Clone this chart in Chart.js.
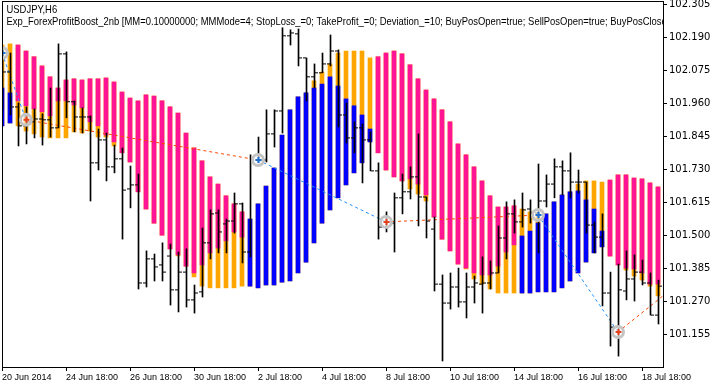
<!DOCTYPE html>
<html>
<head>
<meta charset="utf-8">
<script src="https://cdn.jsdelivr.net/npm/chart.js@4.4.1/dist/chart.umd.min.js"></script>
<style>
  html, body { margin: 0; padding: 0; background: #fff; }
</style>
</head>
<body>
<canvas id="chart" width="715" height="387"></canvas>
<script>
// texts
const symbolTitle = "USDJPY,H6";
const expertTitle = "Exp_ForexProfitBoost_2nb [MM=0.10000000; MMMode=4; StopLoss_=0; TakeProfit_=0; Deviation_=10; BuyPosOpen=true; SellPosOpen=true; BuyPosClose=true; SellPosClose=true]";

// axes
const xTickBars = [0, 8, 16, 24, 32, 40, 48, 56, 64, 72, 80];
const xTickLabels = ["20 Jun 2014", "24 Jun 18:00", "26 Jun 18:00", "30 Jun 18:00", "2 Jul 18:00", "4 Jul 18:00",
  "8 Jul 18:00", "10 Jul 18:00", "14 Jul 18:00", "16 Jul 18:00", "18 Jul 18:00"];
const yTicks = [102.305, 102.190, 102.075, 101.960, 101.845, 101.730, 101.615, 101.500, 101.385, 101.270, 101.155];

// H6 bars (one per index)
const barOpen = [101.972, 102.070, 101.948, 101.882, 101.896, 101.906, 101.903, 101.875, 102.133, 101.966,
  101.913, 101.913, 101.753, 101.833, 101.739, 101.767, 101.662, 101.676, 101.334, 101.418,
  101.397, 101.428, 101.310, 101.372, 101.275, 101.303, 101.474, 101.578, 101.540, 101.550,
  101.610, 101.442, 101.763, 101.763, 101.854, 101.934, 102.196, 102.203, 102.119, 102.053,
  102.067, 102.098, 102.143, 101.920, 101.840, 101.875, 101.833, 101.725, 101.529, 101.543,
  101.631, 101.652, 101.704, 101.634, 101.522, 101.330, 101.264, 101.320, 101.268, 101.320,
  101.330, 101.334, 101.369, 101.491, 101.575, 101.547, 101.592, 101.578, 101.620, 101.679,
  101.739, 101.725, 101.686, 101.686, 101.536, 101.494, 101.299, 101.180, 101.306, 101.348,
  101.372, 101.334, 101.222];
const barHigh = [102.147, 102.136, 101.962, 101.948, 101.941, 101.924, 102.014, 102.168, 102.140, 101.969,
  101.945, 101.917, 101.871, 101.857, 101.815, 101.805, 101.742, 101.714, 101.446, 101.435,
  101.474, 101.470, 101.442, 101.453, 101.327, 101.526, 101.589, 101.589, 101.557, 101.648,
  101.613, 101.781, 101.843, 101.938, 101.938, 102.224, 102.217, 102.220, 102.119, 102.098,
  102.136, 102.199, 102.147, 101.962, 101.896, 101.889, 101.861, 101.753, 101.582, 101.648,
  101.714, 101.739, 101.854, 101.634, 101.564, 101.362, 101.369, 101.386, 101.369, 101.358,
  101.425, 101.411, 101.533, 101.617, 101.624, 101.648, 101.624, 101.749, 101.711, 101.767,
  101.760, 101.788, 101.728, 101.686, 101.547, 101.575, 101.372, 101.400, 101.446, 101.432,
  101.414, 101.369, 101.344];
const barLow = [101.938, 101.920, 101.812, 101.819, 101.840, 101.815, 101.843, 101.875, 101.910, 101.861,
  101.857, 101.620, 101.728, 101.690, 101.718, 101.487, 101.596, 101.313, 101.320, 101.341,
  101.341, 101.257, 101.233, 101.250, 101.229, 101.285, 101.418, 101.439, 101.439, 101.508,
  101.404, 101.425, 101.753, 101.756, 101.808, 101.857, 102.164, 102.091, 101.969, 102.014,
  102.067, 102.091, 101.878, 101.822, 101.788, 101.683, 101.725, 101.487, 101.512, 101.442,
  101.575, 101.627, 101.533, 101.491, 101.306, 101.062, 101.243, 101.250, 101.212, 101.264,
  101.229, 101.313, 101.369, 101.418, 101.508, 101.529, 101.543, 101.439, 101.599, 101.631,
  101.641, 101.631, 101.648, 101.508, 101.439, 101.254, 101.114, 101.079, 101.275, 101.271,
  101.327, 101.222, 101.191];
const barClose = [102.070, 101.948, 101.882, 101.896, 101.906, 101.903, 101.875, 102.133, 101.966, 101.913,
  101.913, 101.753, 101.833, 101.739, 101.767, 101.658, 101.676, 101.334, 101.418, 101.390,
  101.372, 101.310, 101.372, 101.275, 101.299, 101.474, 101.575, 101.512, 101.550, 101.610,
  101.442, 101.763, 101.763, 101.854, 101.934, 102.196, 102.206, 102.119, 102.053, 102.067,
  102.098, 102.143, 101.920, 101.840, 101.875, 101.833, 101.725, 101.529, 101.547, 101.631,
  101.652, 101.704, 101.634, 101.550, 101.330, 101.264, 101.320, 101.268, 101.320, 101.334,
  101.334, 101.369, 101.491, 101.575, 101.547, 101.589, 101.578, 101.620, 101.679, 101.739,
  101.725, 101.686, 101.686, 101.536, 101.494, 101.299, 101.180, 101.310, 101.348, 101.372,
  101.334, 101.222, 101.323];

// indicator cloud: top, split level, bottom, trend (1 up = blue, -1 down = pink)
const cloudTop = [102.164, 102.168, 102.164, 102.143, 102.123, 102.091, 102.053, 102.014, 102.042, 102.046,
  102.042, 102.046, 102.046, 102.049, 102.035, 102.000, 101.979, 101.969, 101.990, 101.986,
  101.969, 101.948, 101.927, 101.857, 101.805, 101.760, 101.704, 101.679, 101.638, 101.610,
  101.582, 101.557, 101.610, 101.672, 101.735, 101.850, 101.938, 101.983, 101.997, 102.039,
  102.070, 102.098, 102.136, 102.143, 102.143, 102.143, 102.119, 102.123, 102.136, 102.143,
  102.133, 102.095, 102.046, 102.007, 101.976, 101.938, 101.896, 101.819, 101.781, 101.739,
  101.690, 101.638, 101.599, 101.599, 101.603, 101.592, 101.582, 101.575, 101.575, 101.617,
  101.641, 101.652, 101.679, 101.690, 101.690, 101.686, 101.693, 101.711, 101.711, 101.700,
  101.697, 101.683, 101.669];
const cloudMid = [102.014, 101.997, 101.969, 101.952, 101.941, 101.931, 101.917, 101.969, 101.969, 101.955,
  101.945, 101.896, 101.882, 101.850, 101.826, 101.788, 101.756, 101.652, 101.592, 101.543,
  101.501, 101.453, 101.432, 101.393, 101.369, 101.397, 101.439, 101.456, 101.481, 101.512,
  101.494, 101.557, 101.610, 101.672, 101.735, 101.850, 101.938, 101.983, 101.997, 102.014,
  102.028, 102.053, 102.021, 101.976, 101.952, 101.920, 101.871, 101.788, 101.728, 101.704,
  101.690, 101.697, 101.679, 101.641, 101.564, 101.487, 101.446, 101.400, 101.386, 101.369,
  101.362, 101.362, 101.393, 101.442, 101.467, 101.498, 101.515, 101.543, 101.575, 101.617,
  101.641, 101.652, 101.655, 101.624, 101.592, 101.515, 101.428, 101.397, 101.386, 101.383,
  101.369, 101.330, 101.330];
const cloudBottom = [101.882, 101.892, 101.882, 101.864, 101.854, 101.843, 101.840, 101.840, 101.840, 101.861,
  101.857, 101.864, 101.843, 101.843, 101.812, 101.788, 101.756, 101.652, 101.592, 101.543,
  101.501, 101.453, 101.428, 101.393, 101.355, 101.323, 101.317, 101.317, 101.317, 101.317,
  101.323, 101.323, 101.317, 101.327, 101.327, 101.337, 101.341, 101.369, 101.407, 101.474,
  101.543, 101.589, 101.631, 101.676, 101.718, 101.753, 101.826, 101.788, 101.728, 101.704,
  101.690, 101.662, 101.644, 101.620, 101.564, 101.487, 101.446, 101.400, 101.383, 101.348,
  101.330, 101.313, 101.299, 101.299, 101.299, 101.299, 101.299, 101.303, 101.303, 101.303,
  101.317, 101.341, 101.369, 101.407, 101.439, 101.460, 101.428, 101.397, 101.379, 101.358,
  101.344, 101.323, 101.289];
const cloudTrend = [1, 1, -1, -1, -1, -1, -1, -1, -1, -1,
  -1, -1, -1, -1, -1, -1, -1, -1, -1, -1,
  -1, -1, -1, -1, -1, -1, -1, -1, -1, -1,
  -1, 1, 1, 1, 1, 1, 1, 1, 1, 1,
  1, 1, 1, 1, 1, 1, 1, -1, -1, -1,
  -1, -1, -1, -1, -1, -1, -1, -1, -1, -1,
  -1, -1, -1, -1, -1, 1, 1, 1, 1, 1,
  1, 1, 1, 1, 1, 1, -1, -1, -1, -1,
  -1, -1, -1];

// trades
const tradeBars = [0, 3, 32, 48, 67, 77];
const tradePrices = [102.136, 101.903, 101.763, 101.547, 101.571, 101.163];
const tradeSides = ["buy", "sell", "buy", "sell", "buy", "sell"];
const tradePathBars = [0, 3, 32, 48, 67, 77, 84];
const tradePathPrices = [102.136, 101.903, 101.763, 101.547, 101.571, 101.163, 101.320];

const PINK = "#ff1493", ORANGE = "#ffa500", BLUE = "#0000ff";
const idx = barOpen.map((_, i) => i);

const squeezeText = (ctx, text, x, y, sx) => {
  ctx.save();
  ctx.translate(x, y);
  ctx.scale(sx, 1);
  ctx.fillText(text, 0, 0);
  ctx.restore();
};

const mtFrame = {
  id: "mtFrame",
  afterDatasetsDraw(chart) {
    const { ctx, chartArea: a } = chart;
    ctx.save();
    ctx.beginPath();
    ctx.rect(a.left, a.top, a.right - a.left, a.bottom - a.top);
    ctx.clip();
    ctx.fillStyle = "#000";
    ctx.font = '11px "Liberation Sans"';
    ctx.textBaseline = "alphabetic";
    const cut = expertTitle.slice(0, expertTitle.indexOf("BuyPosClos") + 10);
    const sx = 655 / ctx.measureText(cut).width;
    squeezeText(ctx, symbolTitle, 6.5, 13, sx);
    squeezeText(ctx, expertTitle, 6.5, 25, sx);
    ctx.restore();
    ctx.save();
    ctx.strokeStyle = "#000";
    ctx.lineWidth = 1;
    ctx.strokeRect(a.left + 0.5, a.top - 0.5, a.right - a.left, a.bottom - a.top + 1);
    ctx.restore();
  }
};

const hidden = (min, max) => ({ type: "linear", display: false, offset: false, min: min, max: max });

new Chart(document.getElementById("chart"), {
  type: "bar",
  plugins: [mtFrame],
  data: {
    datasets: [
      {
        label: "cloud",
        order: 10,
        grouped: false,
        barThickness: 4,
        backgroundColor: ORANGE,
        data: idx.map(i => ({ x: i, y: [cloudBottom[i], cloudTop[i]] }))
      },
      {
        label: "down",
        order: 9,
        grouped: false,
        barThickness: 4,
        backgroundColor: PINK,
        data: idx.filter(i => cloudTrend[i] < 0).map(i => ({ x: i, y: [cloudMid[i], cloudTop[i]] }))
      },
      {
        label: "up",
        order: 9,
        grouped: false,
        barThickness: 4,
        backgroundColor: BLUE,
        data: idx.filter(i => cloudTrend[i] > 0).map(i => ({ x: i, y: [cloudBottom[i], cloudMid[i]] }))
      },
      {
        type: "line",
        label: "trades",
        order: 8,
        borderWidth: 1,
        borderDash: [3, 3],
        pointRadius: 0,
        segment: {
          borderColor: c => tradeSides[c.p0DataIndex] === "buy" ? "#1e90ff" : "#ff4500"
        },
        data: tradePathBars.map((b, i) => ({ x: b, y: tradePathPrices[i] }))
      },
      {
        label: "range",
        order: 7,
        xAxisID: "x2",
        grouped: false,
        barThickness: 1,
        backgroundColor: "#000",
        data: idx.map(i => ({ x: i, y: [barLow[i], barHigh[i]] }))
      },
      {
        type: "scatter",
        label: "open",
        order: 6,
        xAxisID: "xo",
        pointStyle: "line",
        pointRadius: 1.5,
        borderWidth: 1,
        borderColor: "#000",
        data: idx.map(i => ({ x: i, y: barOpen[i] }))
      },
      {
        type: "scatter",
        label: "close",
        order: 6,
        xAxisID: "xc",
        pointStyle: "line",
        pointRadius: 1.5,
        borderWidth: 1,
        borderColor: "#000",
        data: idx.map(i => ({ x: i, y: barClose[i] }))
      },
      {
        type: "scatter",
        label: "deals",
        order: 5,
        pointStyle: "circle",
        pointRadius: 5.5,
        borderWidth: 3,
        borderColor: "#c4c4c4",
        backgroundColor: "rgba(255,255,255,0.6)",
        data: tradeBars.map((b, i) => ({ x: b, y: tradePrices[i] }))
      },
      {
        type: "scatter",
        label: "dealMarks",
        order: 4,
        xAxisID: "x2",
        pointStyle: "cross",
        pointRadius: 3,
        borderWidth: 2,
        borderColor: tradeSides.map(s => s === "buy" ? "#1e6fd0" : "#e8401c"),
        data: tradeBars.map((b, i) => ({ x: b, y: tradePrices[i] }))
      }
    ]
  },
  options: {
    responsive: false,
    animation: false,
    devicePixelRatio: 1,
    layout: { autoPadding: false, padding: { top: 2, left: 2, right: 0, bottom: 0 } },
    plugins: {
      legend: { display: false },
      tooltip: { enabled: false }
    },
    scales: {
      x: {
        type: "linear",
        position: "bottom",
        offset: false,
        min: 0,
        max: 82.625,
        border: { display: false },
        grid: { offset: false, drawOnChartArea: false, drawTicks: true, tickLength: 4, color: "#000" },
        ticks: {
          align: "start",
          autoSkip: false,
          maxRotation: 0,
          padding: 1,
          color: "#000",
          font: { family: "Liberation Sans", size: 9 },
          callback: v => xTickLabels[xTickBars.indexOf(v)]
        },
        afterBuildTicks: s => { s.ticks = xTickBars.map(v => ({ value: v })); },
        afterFit: s => { s.height = 20; s.paddingLeft = 0; s.paddingRight = 0; }
      },
      x2: hidden(-0.0625, 82.5625),
      xo: hidden(0.1875, 82.8125),
      xc: hidden(-0.3125, 82.3125),
      y: {
        type: "linear",
        position: "right",
        min: 101.041,
        max: 102.314,
        border: { display: false },
        grid: { drawOnChartArea: false, drawTicks: true, tickLength: 4, color: "#000" },
        ticks: {
          padding: 2,
          color: "#000",
          font: { family: "DejaVu Sans", size: 10 },
          callback: v => v.toFixed(3)
        },
        afterBuildTicks: s => { s.ticks = yTicks.map(v => ({ value: v })); },
        afterFit: s => { s.width = 52; s.paddingTop = 0; s.paddingBottom = 0; }
      }
    }
  }
});
</script>
</body>
</html>
